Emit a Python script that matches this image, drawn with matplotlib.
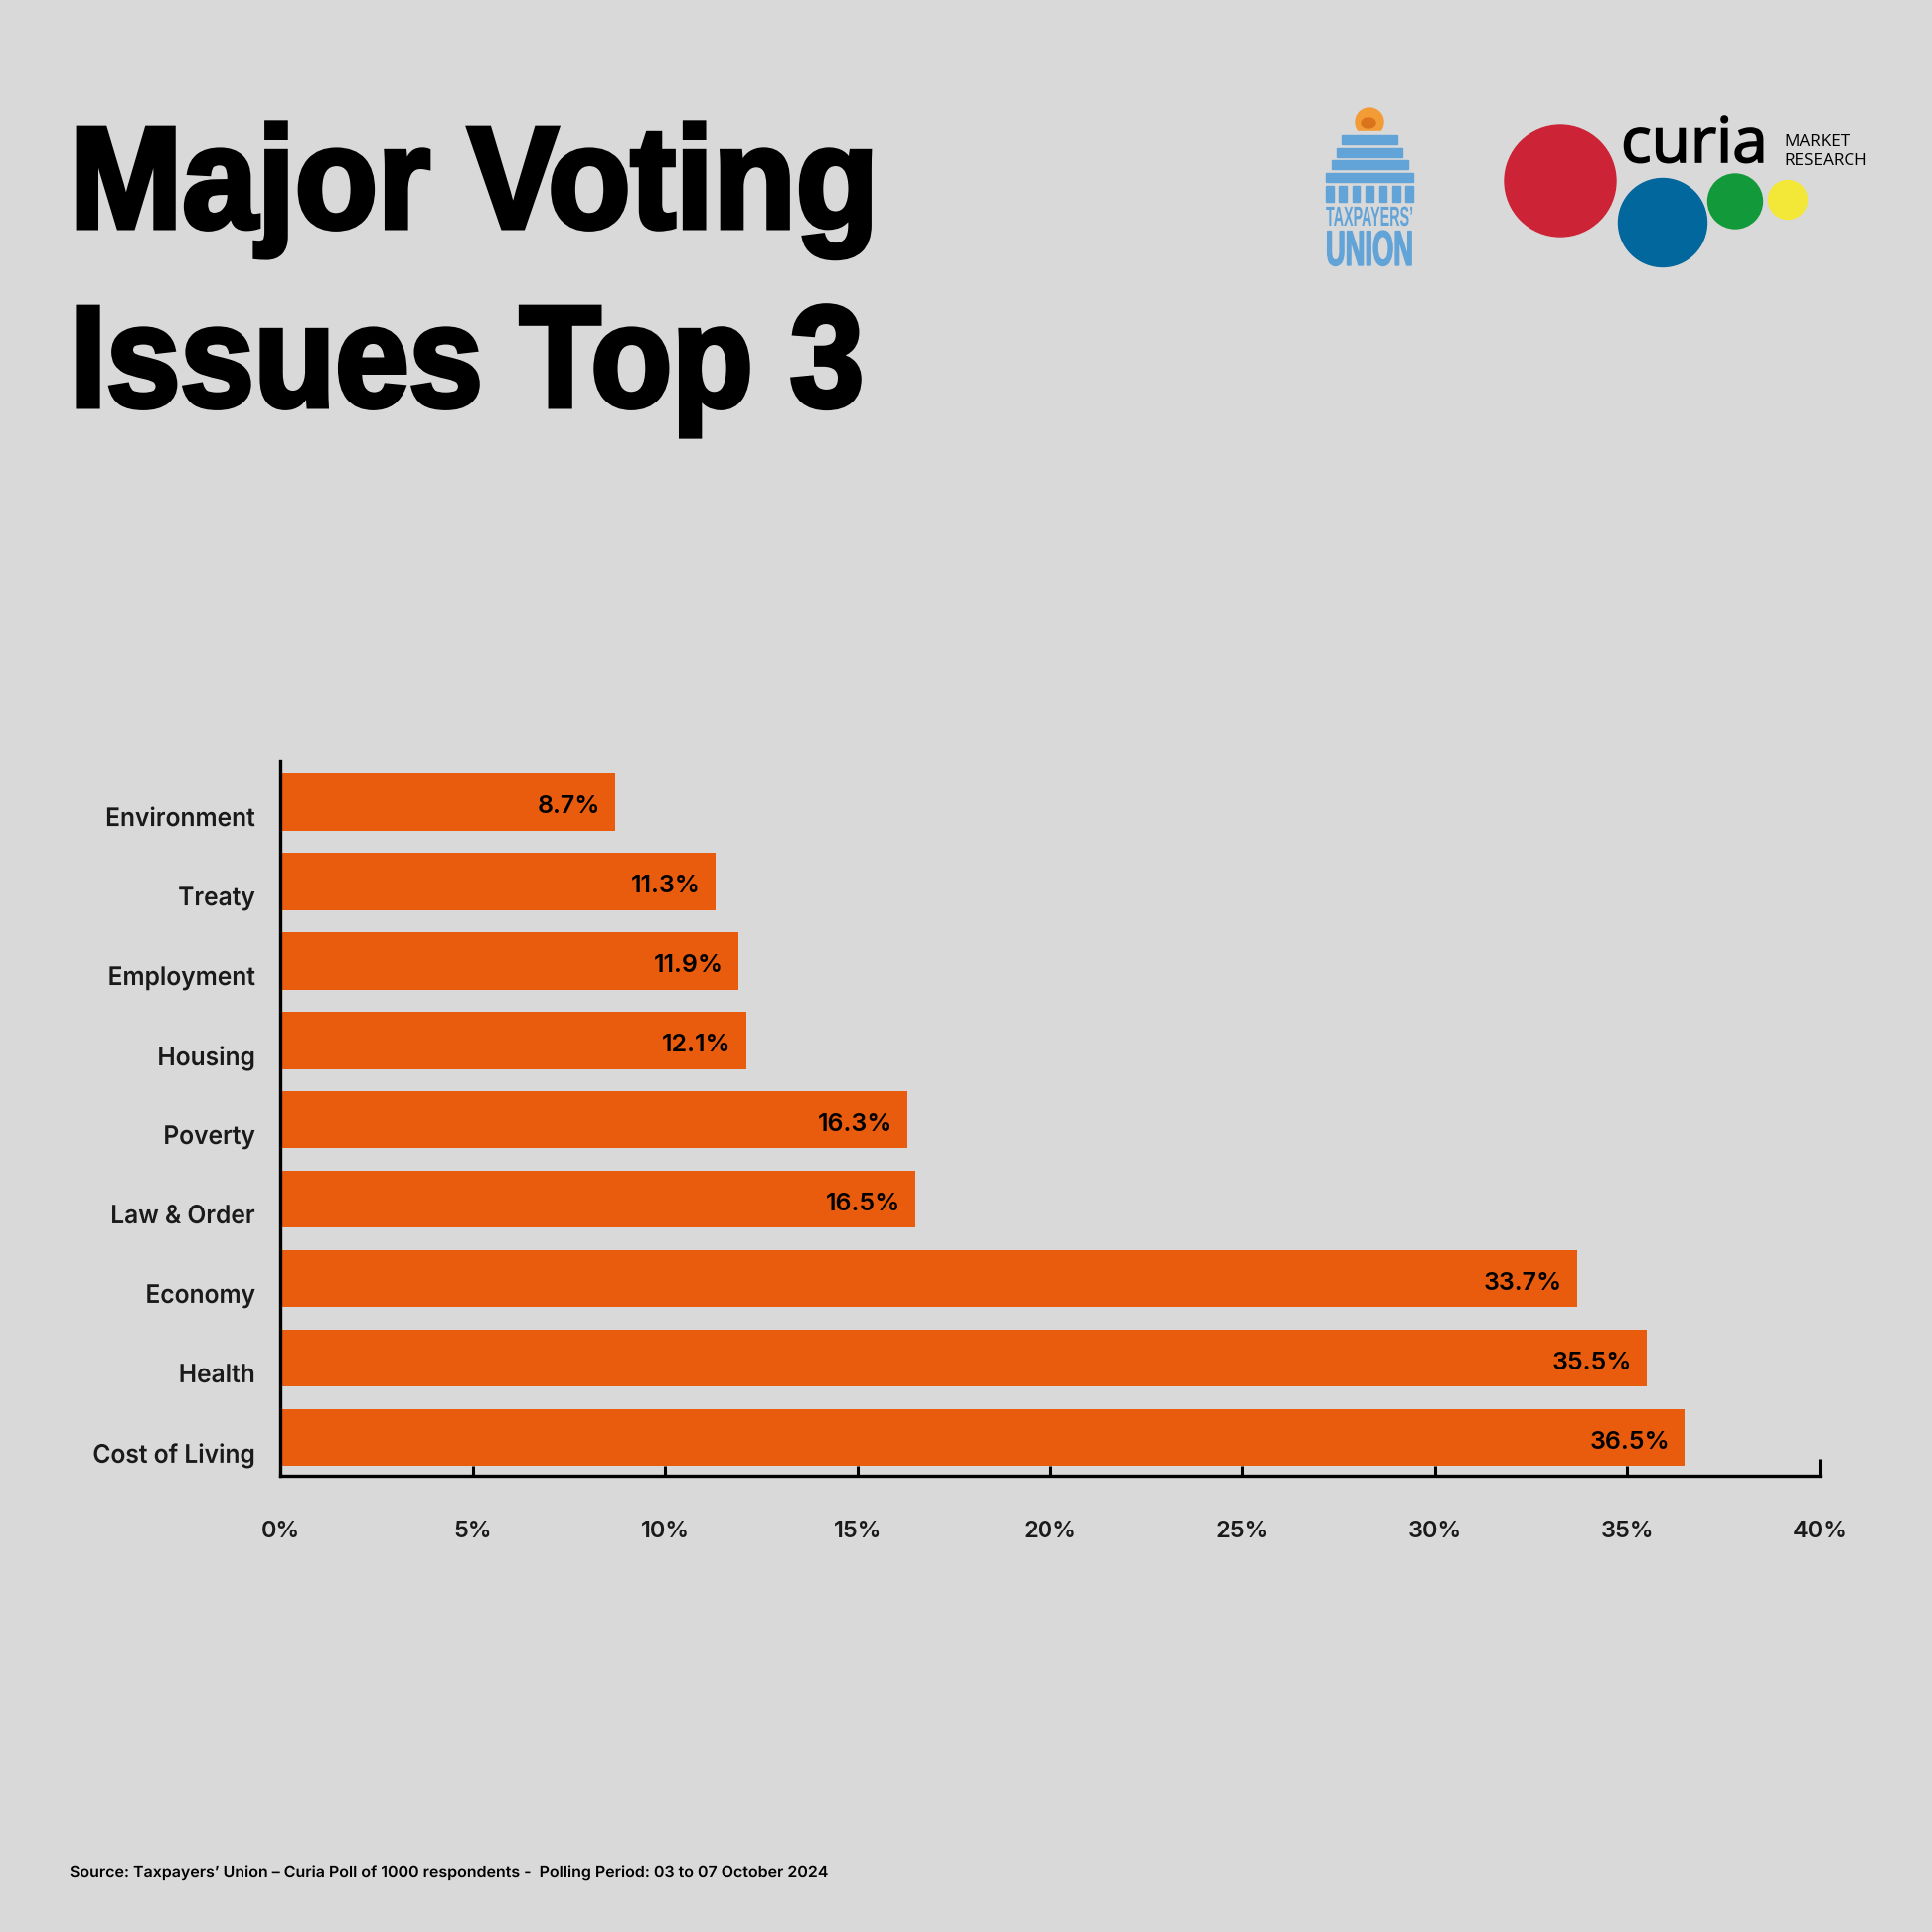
import numpy as np
import matplotlib
matplotlib.use("Agg")
import matplotlib.pyplot as plt
from matplotlib.patches import Circle, Rectangle, Ellipse
from matplotlib.patheffects import AbstractPathEffect
from matplotlib.transforms import Affine2D

# data (top to bottom as shown)
issues = ["Environment", "Treaty", "Employment", "Housing", "Poverty",
          "Law & Order", "Economy", "Health", "Cost of Living"]
shares = [8.7, 11.3, 11.9, 12.1, 16.3, 16.5, 33.7, 35.5, 36.5]
xticks = [0, 5, 10, 15, 20, 25, 30, 35, 40]
xtick_labels = ["0%", "5%", "10%", "15%", "20%", "25%", "30%", "35%", "40%"]

BG = "#d9d9d9"
BAR = "#ea5c0d"
W = 1944
FAM = ["Inter", "DejaVu Sans"]


class Squeeze(AbstractPathEffect):
    # squash text horizontally about x0 (display px), optional stroke to fatten
    def __init__(self, sx, x0, lw=0):
        super().__init__()
        self.sx = sx
        self.x0 = x0
        self.lw = lw

    def draw_path(self, renderer, gc, tpath, affine, rgbFace=None):
        a = affine + Affine2D().translate(-self.x0, 0).scale(self.sx, 1).translate(self.x0, 0)
        if self.lw > 0:
            gc0 = renderer.new_gc()
            gc0.copy_properties(gc)
            gc0.set_linewidth(self.lw)
            gc0.set_foreground(rgbFace)
            gc0.set_joinstyle("miter")
            renderer.draw_path(gc0, tpath, a, rgbFace)
            gc0.restore()
        else:
            renderer.draw_path(gc, tpath, a, rgbFace)


def squeeze_to(t, width_px=None, lw=0, sx=None, right=False):
    fig.canvas.draw()
    bb = t.get_window_extent()
    if sx is None:
        sx = width_px / bb.width
    t.set_path_effects([Squeeze(sx, bb.x1 if right else bb.x0, lw)])


fig = plt.figure(figsize=(19.44, 19.44), dpi=100, facecolor=BG)

# ---- bar chart ----
ax = fig.add_axes([282 / W, 1 - 1485 / W, 1549 / W, 719 / W])
ax.set_facecolor("none")
y = np.arange(len(issues))[::-1]
ax.barh(y, shares, height=0.72, color=BAR, zorder=2)
ax.set_xlim(0, 40)
ax.set_ylim(-0.48, 8.51)

for sp in ["top", "right"]:
    ax.spines[sp].set_visible(False)
for sp in ["left", "bottom"]:
    ax.spines[sp].set_linewidth(2.4)
    ax.spines[sp].set_color("black")
    ax.spines[sp].set_zorder(3)

ax.set_yticks([])
ax.set_xticks(xticks)
ax.set_xticklabels(xtick_labels, fontsize=17, color="#1a1a1a", family=FAM, fontweight="semibold")
ax.tick_params(axis="x", direction="in", length=7, width=2.2, pad=32.5, color="black")
ax.xaxis.get_major_ticks()[-1].tick1line.set_markersize(12.5)

cat_texts = []
val_texts = []
for yi, name, v in zip(y, issues, shares):
    cat_texts.append(ax.annotate(name, xy=(0, yi), xytext=(-18, -12.8), textcoords="offset points",
                                 ha="right", va="center", fontsize=18.5, color="#1a1a1a",
                                 family=FAM, fontweight="semibold"))
    val_texts.append(ax.annotate(f"{v}%", xy=(v, yi), xytext=(-10.8, -3.6), textcoords="offset points",
                                 ha="right", va="center", fontsize=18, color="black",
                                 family=FAM, fontweight="semibold", zorder=4))

# ---- title ----
t1 = fig.text(70 / W, 1 - 229 / W, "Major Voting", fontsize=104.5, fontweight="bold",
              family=["Liberation Sans", "DejaVu Sans"], va="baseline", ha="left")
t2 = fig.text(70 / W, 1 - 409 / W, "Issues Top 3", fontsize=104.5, fontweight="bold",
              family=["Liberation Sans", "DejaVu Sans"], va="baseline", ha="left")

src = fig.text(70 / W, 1 - 1889 / W,
               "Source: Taxpayers\u2019 Union \u2013 Curia Poll of 1000 respondents -  Polling Period: 03 to 07 October 2024",
               fontsize=11, fontweight="semibold", family=FAM, va="baseline", ha="left")

# ---- logos (overlay in pixel coords) ----
lg = fig.add_axes([0, 0, 1, 1], facecolor="none", zorder=5)
lg.set_xlim(0, W)
lg.set_ylim(W, 0)
lg.axis("off")

tu_blue = "#62a3d8"
lg.add_patch(Circle((1378, 123), 14, color="#f39b35"))
lg.add_patch(Ellipse((1377, 124), 14, 10, color="#d9731c"))
lg.add_patch(Rectangle((1363, 132), 30, 4, color=BG))
steps = [(1350, 1406, 136), (1345, 1411, 149), (1340, 1417, 161), (1334, 1422, 174)]
for x0, x1, yt in steps:
    lg.add_patch(Rectangle((x0, yt), x1 - x0, 9, color=tu_blue))
cols = np.linspace(1334, 1422 - 7.6, 7)
for cx in cols:
    lg.add_patch(Rectangle((cx, 187), 7.6, 16, color=tu_blue))
tp = lg.text(1334, 227, "TAXPAYERS\u2019", fontsize=20, fontweight="bold", color=tu_blue,
             family=["Liberation Sans", "DejaVu Sans"], ha="left", va="baseline")
un = lg.text(1334, 267, "UNION", fontsize=36, fontweight="bold", color=tu_blue,
             family=["Liberation Sans", "DejaVu Sans"], ha="left", va="baseline")

lg.add_patch(Circle((1570, 182), 56, color="#cc2336"))
lg.add_patch(Circle((1673, 224), 44.5, color="#02679c"))
lg.add_patch(Circle((1746, 202.5), 27.5, color="#12993a"))
lg.add_patch(Circle((1799, 201), 19.5, color="#f3e837"))
cu = lg.text(1631, 163, "curia", fontsize=45, color="black",
             family=["Open Sans", "DejaVu Sans"], ha="left", va="baseline")
lg.text(1795, 147, "MARKET", fontsize=12.4, color="black",
        family=["Open Sans", "DejaVu Sans"], ha="left", va="baseline")
lg.text(1795, 166, "RESEARCH", fontsize=12.4, color="black",
        family=["Open Sans", "DejaVu Sans"], ha="left", va="baseline")

squeeze_to(t1, 814, lw=3.6)
squeeze_to(t2, 799, lw=3.6)
squeeze_to(src, 762)
squeeze_to(tp, 88)
squeeze_to(un, 88, lw=1.0)
squeeze_to(cu, 148, lw=1.2)
for t in cat_texts:
    squeeze_to(t, sx=0.955, right=True)

fig.savefig("out.png", dpi=100, facecolor=BG)
